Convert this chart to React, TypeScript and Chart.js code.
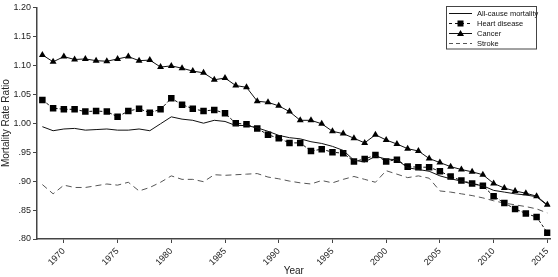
import React, { useEffect, useRef } from "react";
import { Chart, registerables } from "chart.js";

Chart.register(...registerables);

const years = [
  1968, 1969, 1970, 1971, 1972, 1973, 1974, 1975, 1976, 1977, 1978, 1979,
  1980, 1981, 1982, 1983, 1984, 1985, 1986, 1987, 1988, 1989,
  1990, 1991, 1992, 1993, 1994, 1995, 1996, 1997, 1998, 1999,
  2000, 2001, 2002, 2003, 2004, 2005, 2006, 2007, 2008, 2009,
  2010, 2011, 2012, 2013, 2014, 2015,
];

const allCause = [
  0.994, 0.987, 0.99, 0.991, 0.988, 0.989, 0.99, 0.988, 0.988, 0.99, 0.987, 0.999,
  1.011, 1.007, 1.005, 1.0, 1.005, 1.003, 0.996, 0.996, 0.992, 0.986,
  0.979, 0.975, 0.973, 0.968, 0.965, 0.96, 0.953, 0.936, 0.933, 0.943,
  0.938, 0.937, 0.923, 0.92, 0.917, 0.909, 0.904, 0.9, 0.895, 0.892,
  0.884, 0.881, 0.878, 0.876, 0.873, 0.858,
];

const heartDisease = [
  1.04, 1.026, 1.024, 1.024, 1.02, 1.021, 1.02, 1.011, 1.021, 1.025, 1.018, 1.024,
  1.043, 1.032, 1.025, 1.021, 1.023, 1.017, 1.0, 0.998, 0.991, 0.98,
  0.974, 0.966, 0.966, 0.952, 0.955, 0.95, 0.948, 0.934, 0.938, 0.945,
  0.934, 0.937, 0.925, 0.924, 0.924, 0.917, 0.908, 0.901, 0.896, 0.892,
  0.874, 0.862, 0.852, 0.844, 0.838, 0.811,
];

const cancer = [
  1.118, 1.106, 1.115, 1.11, 1.111, 1.108, 1.107, 1.111, 1.115, 1.108, 1.109, 1.097,
  1.099, 1.095, 1.09, 1.087, 1.075, 1.078, 1.065, 1.062, 1.038, 1.036,
  1.03, 1.02, 1.005, 1.005, 0.999, 0.986, 0.982, 0.974, 0.966, 0.98,
  0.971, 0.964, 0.956, 0.952, 0.939, 0.932, 0.925, 0.92, 0.916, 0.911,
  0.896, 0.888, 0.883, 0.879, 0.874, 0.859,
];

const stroke = [
  0.894, 0.878, 0.893, 0.889, 0.889, 0.892, 0.895, 0.893, 0.898, 0.883, 0.889, 0.898,
  0.909, 0.903, 0.903, 0.899, 0.911, 0.91, 0.911, 0.912, 0.913, 0.907,
  0.904, 0.9, 0.897, 0.895, 0.901, 0.897, 0.903, 0.908, 0.903, 0.898,
  0.918, 0.912, 0.906, 0.909, 0.905, 0.883, 0.881, 0.878, 0.875, 0.871,
  0.866, 0.862, 0.859, 0.856, 0.852, 0.845,
];

const seriesLabels = ["All-cause mortality", "Heart disease", "Cancer", "Stroke"];

const xTicks = [1970, 1975, 1980, 1985, 1990, 1995, 2000, 2005, 2010, 2015];
const yTicks = [0.8, 0.85, 0.9, 0.95, 1.0, 1.05, 1.1, 1.15, 1.2];
const yTickLabels = [".80", ".85", ".90", ".95", "1.00", "1.05", "1.10", "1.15", "1.20"];

const FONT = "'Liberation Sans', Arial, sans-serif";

const toPoints = (vals: number[]) => years.map((yr, i) => ({ x: yr, y: vals[i] }));

const legendPlugin = {
  id: "boxLegend",
  afterDraw(chart: any) {
    const ctx = chart.ctx as CanvasRenderingContext2D;
    const x0 = 446.5;
    const y0 = 6.5;
    const w = 90;
    const h = 42.5;
    ctx.save();
    ctx.fillStyle = "#fff";
    ctx.fillRect(x0, y0, w, h);
    ctx.strokeStyle = "#444";
    ctx.lineWidth = 1;
    ctx.setLineDash([]);
    ctx.strokeRect(x0, y0, w, h);
    const sx1 = 449;
    const sx2 = 472;
    const cx = 460.5;
    seriesLabels.forEach((label, i) => {
      const y = 13.5 + i * 10;
      ctx.beginPath();
      if (i === 1) {
        ctx.strokeStyle = "#111";
        ctx.setLineDash([3, 3]);
      } else if (i === 3) {
        ctx.strokeStyle = "#555";
        ctx.setLineDash([4, 3]);
      } else {
        ctx.strokeStyle = "#111";
        ctx.setLineDash([]);
      }
      ctx.lineWidth = 1;
      ctx.moveTo(sx1, y);
      ctx.lineTo(sx2, y);
      ctx.stroke();
      ctx.setLineDash([]);
      ctx.fillStyle = "#000";
      if (i === 1) {
        ctx.fillRect(cx - 3, y - 3, 6, 6);
      } else if (i === 2) {
        ctx.beginPath();
        ctx.moveTo(cx, y - 3.5);
        ctx.lineTo(cx + 3.5, y + 2.5);
        ctx.lineTo(cx - 3.5, y + 2.5);
        ctx.closePath();
        ctx.fill();
      }
      ctx.fillStyle = "#111";
      ctx.font = `7.5px ${FONT}`;
      ctx.textBaseline = "middle";
      ctx.textAlign = "left";
      ctx.fillText(label, 477, y);
    });
    ctx.restore();
  },
};

export default function App() {
  const ref = useRef<HTMLCanvasElement | null>(null);

  useEffect(() => {
    if (!ref.current) return;
    const chart = new Chart(ref.current, {
      type: "line",
      data: {
        datasets: [
          {
            label: seriesLabels[0],
            data: toPoints(allCause),
            borderColor: "#111",
            borderWidth: 1,
            pointRadius: 0,
            tension: 0,
          },
          {
            label: seriesLabels[1],
            data: toPoints(heartDisease),
            borderColor: "#111",
            borderWidth: 1,
            borderDash: [3, 2],
            pointStyle: "rect",
            pointRadius: 4.6,
            pointBackgroundColor: "#000",
            pointBorderColor: "#000",
            pointBorderWidth: 0,
            tension: 0,
          },
          {
            label: seriesLabels[2],
            data: toPoints(cancer),
            borderColor: "#111",
            borderWidth: 1,
            pointStyle: "triangle",
            pointRadius: 4,
            pointBackgroundColor: "#000",
            pointBorderColor: "#000",
            pointBorderWidth: 0,
            tension: 0,
          },
          {
            label: seriesLabels[3],
            data: toPoints(stroke),
            borderColor: "#555",
            borderWidth: 1,
            borderDash: [6, 4],
            pointRadius: 0,
            tension: 0,
          },
        ],
      },
      options: {
        animation: false,
        responsive: true,
        maintainAspectRatio: false,
        layout: { padding: { top: 5, right: 1, left: 0, bottom: 0 } },
        plugins: {
          legend: { display: false },
          tooltip: { enabled: false },
        },
        scales: {
          x: {
            type: "linear",
            min: 1967.5,
            max: 2015.3,
            afterBuildTicks: (s: any) => {
              s.ticks = xTicks.map((v) => ({ value: v }));
            },
            afterFit: (s: any) => {
              s.height = 38;
            },
            ticks: {
              autoSkip: false,
              maxRotation: 45,
              minRotation: 45,
              padding: 3,
              color: "#222",
              font: { family: FONT, size: 9 },
              callback: (v: any) => String(v),
            },
            grid: {
              display: true,
              drawOnChartArea: false,
              drawTicks: true,
              tickLength: 4,
              color: "#444",
            },
            border: { color: "#444", width: 1.5 },
            title: {
              display: true,
              text: "Year",
              color: "#222",
              font: { family: FONT, size: 10 },
              padding: { top: 0, bottom: 0 },
            },
          },
          y: {
            type: "linear",
            min: 0.8,
            max: 1.2,
            afterBuildTicks: (s: any) => {
              s.ticks = yTicks.map((v) => ({ value: v }));
            },
            afterFit: (s: any) => {
              s.width = 37;
            },
            ticks: {
              padding: 2,
              color: "#222",
              font: { family: FONT, size: 9 },
              callback: (_v: any, i: number) => yTickLabels[i],
            },
            grid: {
              display: true,
              drawOnChartArea: false,
              drawTicks: true,
              tickLength: 4,
              color: "#444",
            },
            border: { color: "#444", width: 1.5 },
            title: {
              display: true,
              text: "Mortality Rate Ratio",
              color: "#222",
              font: { family: FONT, size: 10 },
              padding: { top: 0, bottom: 0 },
            },
          },
        },
      },
      plugins: [legendPlugin],
    } as any);
    return () => chart.destroy();
  }, []);

  return (
    <div style={{ position: "absolute", left: 0, top: 0, width: 558, height: 277 }}>
      <canvas ref={ref} />
    </div>
  );
}
